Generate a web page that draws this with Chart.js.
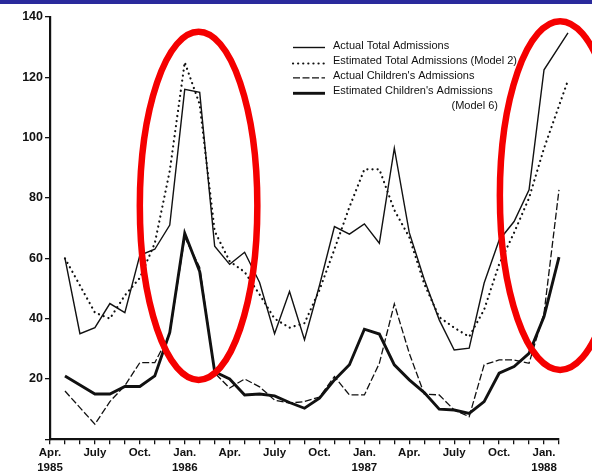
<!DOCTYPE html>
<html>
<head>
<meta charset="utf-8">
<script src="https://cdn.jsdelivr.net/npm/chart.js@4.4.1/dist/chart.umd.min.js"></script>
<style>
  html, body { margin: 0; padding: 0; background: #fff; }
  #wrap { position: relative; width: 592px; height: 475px; overflow: hidden; }
  #topbar { position: absolute; left: 0; top: 0; width: 592px; height: 4px; background: #2a2a9c; z-index: 2; }
  canvas { position: absolute; left: 0; top: 0; }
</style>
</head>
<body>
<div id="wrap">
  <div id="topbar"></div>
  <canvas id="c" width="592" height="475"></canvas>
</div>
<script>
// Monthly hospital admissions, May 1985 .. Feb 1988 (month 0 = Apr. 1985)
const months = [1,2,3,4,5,6,7,8,9,10,11,12,13,14,15,16,17,18,19,20,21,22,23,24,25,26,27,28,29,30,31,32,33,34];
// the two total series end a little later in Feb. 1988
const totalMonths = [1,2,3,4,5,6,7,8,9,10,11,12,13,14,15,16,17,18,19,20,21,22,23,24,25,26,27,28,29,30,31,32,33,34.6];

const actualTotal = [60, 35, 37, 45, 42, 61, 63, 71, 116, 115, 64, 58, 62, 52, 35, 49, 33, 51, 70.5, 68, 71.4, 65, 96.5, 68.5, 53, 39.6, 29.6, 30.2, 51.8, 66, 72.2, 82.7, 122.5, 134.7];
const estimatedTotal = [60, 51, 42, 40, 47.7, 53.5, 65, 89, 125, 111, 69, 59, 55.5, 48, 40, 37, 38.5, 49.5, 63, 77, 89.5, 89.5, 76, 67, 51.5, 40.5, 37, 34, 43, 58, 68.5, 80, 96.5, 119];
const actualChildren = [16, 10.5, 5, 12.5, 17.8, 25.4, 25.4, 35, 67, 57, 22, 17, 20, 17.4, 13, 12, 12.5, 14, 20.8, 14.7, 14.7, 25.2, 44.9, 28.5, 15, 14.7, 9.7, 7.5, 24.7, 26.3, 26.3, 25.2, 41.8, 82.7];
const estimatedChildren = [21, 18, 15, 15, 17.5, 17.5, 21, 35.4, 68.3, 55.6, 22.4, 20, 14.7, 15, 14.4, 12.2, 10.3, 13.6, 19.7, 24.7, 36.5, 34.9, 24.7, 19.7, 15.5, 10, 9.7, 8.6, 12.5, 21.9, 24.1, 28.5, 40.7, 60.4];

const seriesNames = ['Actual Total Admissions', 'Estimated Total Admissions (Model 2)', "Actual Children's Admissions", "Estimated Children's Admissions", '(Model 6)'];

const tickMonths = [0, 3, 6, 9, 12, 15, 18, 21, 24, 27, 30, 33];
const tickLabels = [['Apr.', '1985'], ['July'], ['Oct.'], ['Jan.', '1986'], ['Apr.'], ['July'], ['Oct.'], ['Jan.', '1987'], ['Apr.'], ['July'], ['Oct.'], ['Jan.', '1988']];
const yTicks = [20, 40, 60, 80, 100, 120, 140];

// highlighted periods (month span, admissions span)
const highlights = [
  { from: 6.0, to: 13.85, low: 19.7, high: 135.1 },
  { from: 30.05, to: 38.1, low: 23, high: 138.6 }
];

const INK = '#111';
const FONT = '"Liberation Sans", Arial, Helvetica, sans-serif';

function pts(xs, ys) { return ys.map((v, i) => ({ x: xs[i], y: v })); }

const styles = [
  { borderWidth: 1.4 },
  { borderWidth: 2.2, borderDash: [0.1, 5], borderCapStyle: 'round' },
  { borderWidth: 1.3, borderDash: [7, 2.5] },
  { borderWidth: 2.9 }
];

const legendPlugin = {
  id: 'keyBox',
  afterDatasetsDraw(chart) {
    const ctx = chart.ctx;
    ctx.save();
    ctx.font = '11px ' + FONT;
    ctx.fillStyle = INK;
    ctx.textBaseline = 'middle';
    const x0 = 293, x1 = 325, tx = 333;
    const rows = [45.5, 60.5, 75.8, 91.3];
    rows.forEach((y, i) => {
      const st = styles[i];
      ctx.beginPath();
      ctx.strokeStyle = INK;
      ctx.lineWidth = st.borderWidth;
      ctx.setLineDash(st.borderDash || []);
      ctx.lineCap = st.borderCapStyle || 'butt';
      const ly = y + (i === 1 ? 3 : 2);
      ctx.moveTo(x0, ly);
      ctx.lineTo(x1, ly);
      ctx.stroke();
      ctx.fillText(seriesNames[i], tx, y);
    });
    ctx.textAlign = 'right';
    ctx.fillText(seriesNames[4], 498, 106);
    ctx.restore();
  }
};

const ringPlugin = {
  id: 'rings',
  afterDraw(chart) {
    const { ctx, scales: { x, y } } = chart;
    ctx.save();
    ctx.strokeStyle = '#f50000';
    ctx.lineWidth = 6.5;
    highlights.forEach(h => {
      const xa = x.getPixelForValue(h.from), xb = x.getPixelForValue(h.to);
      const ya = y.getPixelForValue(h.high), yb = y.getPixelForValue(h.low);
      ctx.beginPath();
      ctx.ellipse((xa + xb) / 2, (ya + yb) / 2, (xb - xa) / 2, (yb - ya) / 2, 0, 0, Math.PI * 2);
      ctx.stroke();
    });
    ctx.restore();
  }
};

const datasets = [
  pts(totalMonths, actualTotal),
  pts(totalMonths, estimatedTotal),
  pts(months, actualChildren),
  pts(months, estimatedChildren)
].map((d, i) => Object.assign({
  label: seriesNames[i],
  data: d,
  borderColor: INK,
  backgroundColor: INK,
  pointRadius: 0,
  tension: 0,
  fill: false,
  clip: false,
  borderJoinStyle: 'miter'
}, styles[i]));

new Chart(document.getElementById('c'), {
  type: 'line',
  data: { datasets },
  options: {
    responsive: false,
    animation: false,
    devicePixelRatio: 1,
    layout: { padding: { left: 0, top: 17, right: 33, bottom: 0 } },
    plugins: { legend: { display: false }, tooltip: { enabled: false } },
    scales: {
      x: {
        type: 'linear',
        min: 0,
        max: 34,
        afterFit(s) { s.height = 35.7; },
        afterBuildTicks(s) {
          s.ticks = [];
          for (let m = 0; m <= 34; m++) s.ticks.push({ value: m });
        },
        ticks: {
          autoSkip: false,
          maxRotation: 0,
          padding: 1,
          color: INK,
          font: { family: FONT, size: 11.5, weight: 'bold', lineHeight: 1.3 },
          callback(v) {
            const k = tickMonths.indexOf(v);
            return k >= 0 ? tickLabels[k] : '';
          }
        },
        grid: { drawOnChartArea: false, drawTicks: true, tickLength: 5, color: INK, lineWidth: 1.3 },
        border: { display: true, color: INK, width: 2.2 }
      },
      y: {
        min: 0,
        max: 140,
        afterFit(s) { s.width = 50; },
        afterBuildTicks(s) { s.ticks = [0].concat(yTicks).map(v => ({ value: v })); },
        ticks: {
          padding: 2,
          color: INK,
          font: { family: FONT, size: 12.5, weight: 'bold' },
          callback(v) { return yTicks.includes(v) ? String(v) : ''; }
        },
        grid: { drawOnChartArea: false, drawTicks: true, tickLength: 5, color: INK, lineWidth: 1.3 },
        border: { display: true, color: INK, width: 2.2 }
      }
    }
  },
  plugins: [legendPlugin, ringPlugin]
});
</script>
</body>
</html>
